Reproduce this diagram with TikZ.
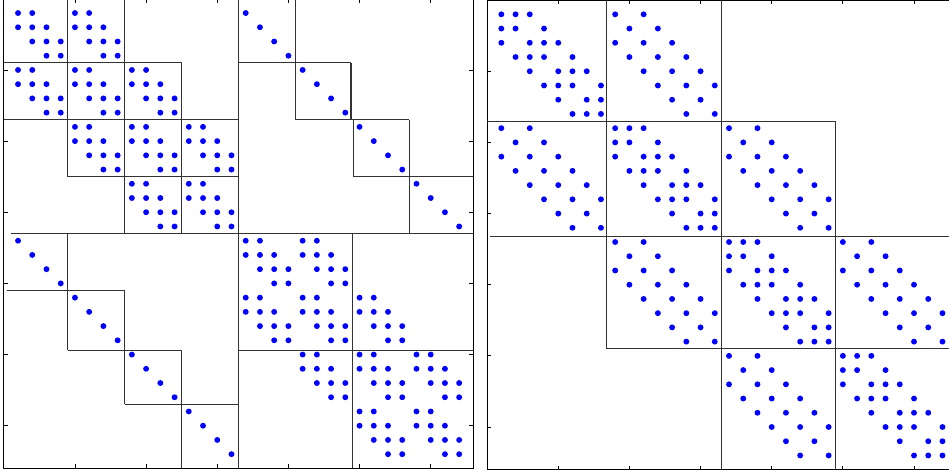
\documentclass[tikz,border=0pt]{standalone}
\usepackage{amsmath}
\usepackage{tikz}

\begin{document}
\begin{tikzpicture}[x=1pt,y=-1pt,
    nzdot/.style={fill=blue},
    axisbox/.style={black,line width=0.9pt},
    blockline/.style={black!80,line width=1.1pt}]
  \clip (0,0) rectangle (949,472);
  \fill[white] (0,0) rectangle (949,472);
  % left matrix: [A I; I A]
  \begin{scope}[shift={(3.8pt,1.2pt)},x=14.23pt,y=-14.23pt]
    \foreach \q in {0,16}
      \foreach \bi/\bj in {0/0,0/4,4/0,4/4,4/8,8/4,8/8,8/12,12/8,12/12}
        \foreach \i/\j in {1/1,1/2,2/1,2/2,2/3,3/2,3/3,3/4,4/3,4/4}
          \fill[nzdot] ({\q+\bj+\j},{\q+\bi+\i}) circle (2.95pt);
    \foreach \k in {1,...,16} {
      \fill[nzdot] ({\k+16},\k) circle (2.95pt);
      \fill[nzdot] (\k,{\k+16}) circle (2.95pt);
    }
    \draw[axisbox] (0,0) rectangle (33,33);
    \foreach \t in {5,10,...,30} {
      \draw[axisbox] (\t,0) -- ++(0,-4pt);
      \draw[axisbox] (\t,33) -- ++(0,4pt);
      \draw[axisbox] (0,\t) -- ++(4pt,0);
      \draw[axisbox] (33,\t) -- ++(-4pt,0);
    }
    \draw[blockline] (16.5,0) -- (16.5,33);
    \draw[blockline] (0.5,16.5) -- (33,16.5);
    % upper left
    \draw[blockline] (4.5,0) -- (4.5,12.5);
    \draw[blockline] (8.5,0) -- (8.5,16.5);
    \draw[blockline] (0,4.5) -- (12.5,4.5);
    \draw[blockline] (12.5,4.5) -- (12.5,16.5);
    \draw[blockline] (0,8.5) -- (16.5,8.5);
    \draw[blockline] (4.5,12.5) -- (16.5,12.5);
    % upper right
    \draw[blockline] (20.5,0) -- (20.5,8.5);
    \draw[blockline] (16.5,4.5) -- (24.4,4.5);
    \draw[blockline] (24.4,4.5) -- (24.4,8.5);
    \draw[blockline] (24.6,8.5) -- (24.6,12.5);
    \draw[blockline] (20.5,8.5) -- (28.5,8.5);
    \draw[blockline] (24.6,12.5) -- (33,12.5);
    \draw[blockline] (28.5,8.5) -- (28.5,16.5);
    % lower left
    \draw[blockline] (4.5,16.5) -- (4.5,24.7);
    \draw[blockline] (0.2,20.5) -- (8.5,20.5);
    \draw[blockline] (8.5,20.5) -- (8.5,28.5);
    \draw[blockline] (4.5,24.7) -- (12.5,24.7);
    \draw[blockline] (12.5,24.7) -- (12.5,33);
    \draw[blockline] (8.5,28.5) -- (16.5,28.5);
    % lower right
    \draw[blockline] (24.5,16.5) -- (24.5,33);
    \draw[blockline] (16.5,24.7) -- (33,24.7);
  \end{scope}
  % right matrix: block tridiagonal, P on the diagonal, Q off it
  \begin{scope}[shift={(487.1pt,-0.1pt)},x=14.23pt,y=-14.23pt]
    \foreach \b in {0,8,16,24}
      \foreach \i/\j in {1/1,1/2,1/3,2/1,2/2,2/4,3/1,3/3,3/4,3/5,4/2,4/3,4/4,4/6,
                         5/3,5/5,5/6,5/7,6/4,6/5,6/6,6/8,7/5,7/7,7/8,8/6,8/7,8/8}
        \fill[nzdot] ({\b+\j},{\b+\i}) circle (2.95pt);
    \foreach \bi/\bj in {0/8,8/0,8/16,16/8,16/24,24/16} {
      \foreach \k in {1,...,8}
        \fill[nzdot] ({\bj+\k},{\bi+\k}) circle (2.95pt);
      \foreach \k in {1,...,6} {
        \fill[nzdot] ({\bj+\k+2},{\bi+\k}) circle (2.95pt);
        \fill[nzdot] ({\bj+\k},{\bi+\k+2}) circle (2.95pt);
      }
    }
    \draw[axisbox] (0,0) rectangle (33,33);
    \foreach \t in {5,10,...,30} {
      \draw[axisbox] (\t,0) -- ++(0,-4pt);
      \draw[axisbox] (\t,33) -- ++(0,4pt);
      \draw[axisbox] (0,\t) -- ++(4pt,0);
      \draw[axisbox] (33,\t) -- ++(-4pt,0);
    }
    \draw[blockline] (8.4,0) -- (8.4,24.5);
    \draw[blockline] (0,8.5) -- (24.5,8.5);
    \draw[blockline] (16.5,0) -- (16.5,33);
    \draw[blockline] (0.2,16.6) -- (33,16.6);
    \draw[blockline] (24.5,8.5) -- (24.5,33);
    \draw[blockline] (8.4,24.5) -- (33,24.5);
  \end{scope}
\end{tikzpicture}
\end{document}
